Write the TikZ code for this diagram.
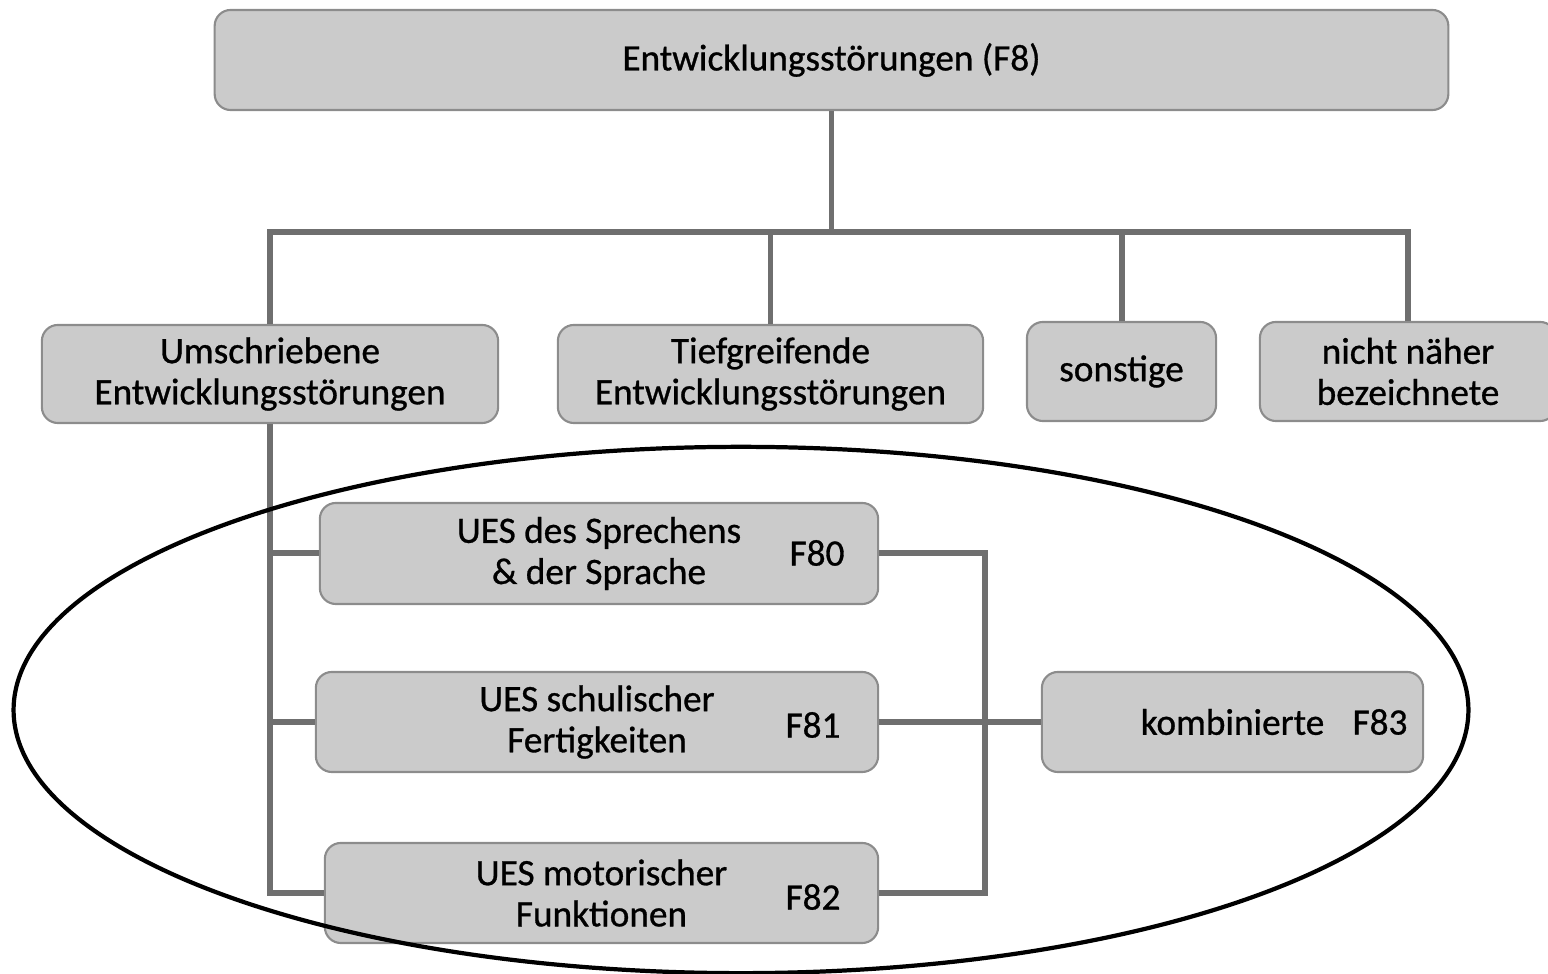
\documentclass[tikz,border=0pt]{standalone}
\usepackage{fontspec}
\setmainfont{Carlito}[RawFeature={embolden=0.8}]
\definecolor{boxfill}{HTML}{CBCBCB}
\definecolor{boxline}{HTML}{8C8C8C}
\definecolor{linkgray}{HTML}{6F6F6F}

\begin{document}
\begin{tikzpicture}[x=0.01cm, y=-0.01cm,
  box/.style={draw=boxline, fill=boxfill, line width=0.6pt, rounded corners=0.16cm,
    align=center, inner sep=0pt, font=\fontsize{10.6}{11.7}\selectfont},
  code/.style={inner sep=0pt, font=\fontsize{10.6}{11.7}\selectfont},
  link/.style={draw=linkgray, line width=1.7pt}]
  \useasboundingbox (0,0) rectangle (1548,974);

  % Links (behind the boxes)
  \coordinate (bus) at (831.5,232);
  \coordinate (join) at (985,720);

  % Top level
  \node[box, minimum width=12.33cm, minimum height=1.00cm] (top) at (831.5,60)
    {Entwicklungsstörungen (F8)};

  % Second level
  \node[box, minimum width=4.56cm, minimum height=0.98cm] (umsch) at (270,374)
    {Umschriebene\\Entwicklungsstörungen};
  \node[box, minimum width=4.25cm, minimum height=0.98cm] (tief) at (770.5,374)
    {Tiefgreifende\\Entwicklungsstörungen};
  \node[box, minimum width=1.89cm, minimum height=0.99cm] (sonst) at (1121.5,371.5)
    {sonstige};
  \node[box, minimum width=2.96cm, minimum height=0.99cm] (nicht) at (1408,371.5)
    {nicht näher\\bezeichnete};

  % Third level
  \node[box, minimum width=5.58cm, minimum height=1.01cm] (fnull) at (599,553.5)
    {UES des Sprechens\\\& der Sprache};
  \node[box, minimum width=5.62cm, minimum height=1.00cm] (feins) at (597,722)
    {UES schulischer\\Fertigkeiten};
  \node[box, minimum width=5.53cm, minimum height=1.00cm] (fzwei) at (601.5,893)
    {UES motorischer\\Funktionen};
  \node[box, minimum width=3.81cm, minimum height=1.00cm] (komb) at (1232.5,722)
    {kombinierte};

  % Codes
  \node[code] (fnullcode) at (817,553) {F80};
  \node[code] (feinscode) at (813,725) {F81};
  \node[code] (fzweicode) at (813,897) {F82};
  \node[code] (kombcode) at (1380,722) {F83};

  % Tree
  \draw[link] (top.south) -- (bus);
  \draw[link] (umsch.north) |- (bus) -| (nicht.north);
  \foreach \n in {tief, sonst}
    \draw[link] (\n.north) -- (\n.north |- bus);
  \draw[link] (umsch.south) |- (fzwei.west);
  \draw[link] (umsch.south |- fnull.west) -- (fnull.west);
  \draw[link] (umsch.south |- feins.west) -- (feins.west);

  % Combined
  \draw[link] (fnull.east) -| (join) |- (fzwei.east);
  \draw[link] (feins.east) -- (komb.west);

  % Ellipse
  \draw[line width=1.2pt] (741,710) ellipse [x radius=7.27cm, y radius=2.63cm];
\end{tikzpicture}
\end{document}
